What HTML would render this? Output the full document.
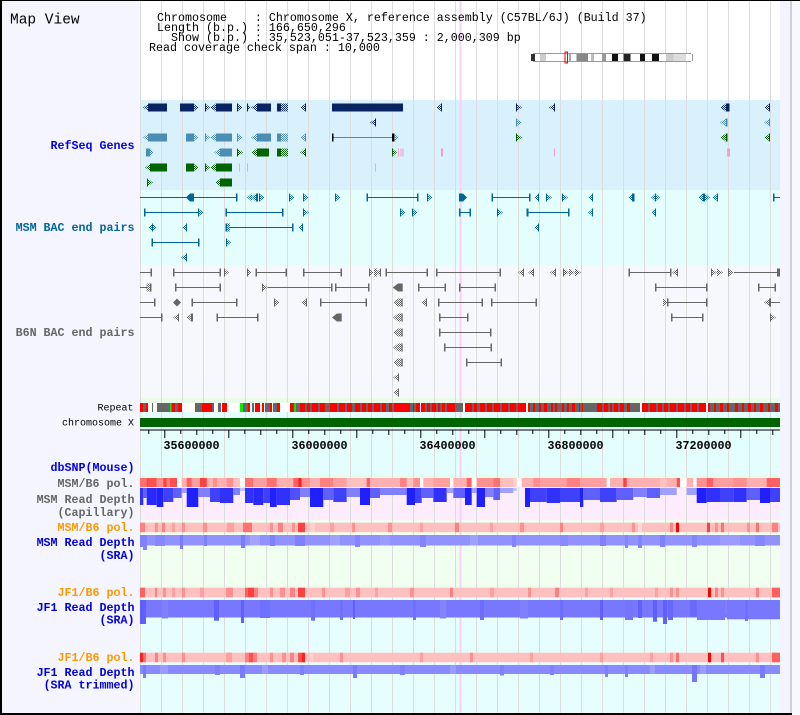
<!DOCTYPE html>
<html><head><meta charset="utf-8"><title>Map View</title>
<style>
html,body{margin:0;padding:0;background:#fff;}
svg{display:block;}
text{white-space:pre;font-family:"Liberation Mono","DejaVu Sans Mono",monospace;}
.lb{font-size:11.67px;font-weight:bold;}
.sm{font-size:10px;}
.hd{font-size:11.67px;}
</style></head><body>
<svg width="800" height="715" viewBox="0 0 800 715" xmlns="http://www.w3.org/2000/svg" xml:space="preserve">
<defs>
<pattern id="pN" width="2" height="2" patternUnits="userSpaceOnUse"><rect width="1" height="1" fill="#0a2463"/><rect x="1" y="1" width="1" height="1" fill="#0a2463"/></pattern>
<pattern id="pS" width="2" height="2" patternUnits="userSpaceOnUse"><rect width="1" height="1" fill="#4a8db5"/><rect x="1" y="1" width="1" height="1" fill="#4a8db5"/></pattern>
<pattern id="pG" width="2" height="2" patternUnits="userSpaceOnUse"><rect width="1" height="1" fill="#006400"/><rect x="1" y="1" width="1" height="1" fill="#006400"/></pattern>
<pattern id="pB" width="2" height="2" patternUnits="userSpaceOnUse"><rect width="1" height="1" fill="#006699"/><rect x="1" y="1" width="1" height="1" fill="#006699"/></pattern>
<pattern id="pY" width="2" height="2" patternUnits="userSpaceOnUse"><rect width="1" height="1" fill="#666"/><rect x="1" y="1" width="1" height="1" fill="#666"/></pattern>
</defs>

<!-- page backgrounds -->
<rect x="0" y="0" width="800" height="715" fill="#f8f8ff"/>
<rect x="0" y="0" width="140" height="715" fill="#f5f5ff"/>
<rect x="140" y="0" width="640" height="100" fill="#ffffff"/>
<rect x="140" y="100" width="640" height="90" fill="#d9f1fc"/>
<rect x="140" y="190" width="640" height="75" fill="#e4fefe"/>
<rect x="140" y="265" width="640" height="133" fill="#f6f8fe"/>
<rect x="140" y="398" width="640" height="5" fill="#e8fce8"/>
<rect x="140" y="403" width="640" height="72" fill="#e4fefe"/>
<rect x="140" y="475" width="640" height="3" fill="#eaf9ea"/>
<rect x="140" y="487" width="640" height="33" fill="#fcecfc"/>
<rect x="140" y="520" width="640" height="66" fill="#f0fff0"/>
<rect x="140" y="586" width="640" height="12" fill="#eefcee"/>
<rect x="140" y="598" width="640" height="115" fill="#e6fefe"/>
<rect x="780" y="0" width="10" height="715" fill="#f4f4fe"/>
<rect x="790" y="0" width="2" height="715" fill="#cfcfd8"/>

<!-- grid lines -->
<g fill="#dcdcdc">
<rect x="140" y="0" width="1" height="713"/>
<rect x="161" y="0" width="1" height="713"/><rect x="182" y="0" width="1" height="713"/><rect x="203" y="0" width="1" height="713"/><rect x="224" y="0" width="1" height="713"/><rect x="245" y="0" width="1" height="713"/><rect x="266" y="0" width="1" height="713"/><rect x="287" y="0" width="1" height="713"/><rect x="308" y="0" width="1" height="713"/><rect x="329" y="0" width="1" height="713"/><rect x="350" y="0" width="1" height="713"/><rect x="371" y="0" width="1" height="713"/><rect x="392" y="0" width="1" height="713"/><rect x="413" y="0" width="1" height="713"/><rect x="434" y="0" width="1" height="713"/><rect x="455" y="0" width="1" height="713"/><rect x="476" y="0" width="1" height="713"/><rect x="497" y="0" width="1" height="713"/><rect x="518" y="0" width="1" height="713"/><rect x="539" y="0" width="1" height="713"/><rect x="560" y="0" width="1" height="713"/><rect x="581" y="0" width="1" height="713"/><rect x="602" y="0" width="1" height="713"/><rect x="623" y="0" width="1" height="713"/><rect x="644" y="0" width="1" height="713"/><rect x="665" y="0" width="1" height="713"/><rect x="686" y="0" width="1" height="713"/><rect x="707" y="0" width="1" height="713"/><rect x="728" y="0" width="1" height="713"/><rect x="749" y="0" width="1" height="713"/><rect x="770" y="0" width="1" height="713"/>
</g>
<rect x="459.5" y="0" width="2" height="713" fill="#f6d2f6"/>

<!-- header -->
<text x="10" y="23.5" style="font-size:14.5px" fill="#000">Map View</text>
<text class="hd" x="157" y="21" fill="#000">Chromosome    : Chromosome X, reference assembly (C57BL/6J) (Build 37)</text>
<text class="hd" x="157" y="31" fill="#000">Length (b.p.) : 166,650,296</text>
<text class="hd" x="157" y="41" fill="#000">  Show (b.p.) : 35,523,051-37,523,359 : 2,000,309 bp</text>
<text class="hd" x="149" y="51" fill="#000">Read coverage check span : 10,000</text>

<!-- ideogram -->
<rect x="531" y="53" width="163" height="9" fill="#fff"/>
<rect x="533" y="53" width="158" height="1" fill="#999"/>
<rect x="533" y="61" width="158" height="1" fill="#999"/>
<rect x="531" y="54" width="4" height="7" fill="#333"/>
<rect x="540" y="54" width="6" height="7" fill="#ccc"/>
<rect x="569" y="54" width="2" height="7" fill="#aaa"/>
<rect x="576.5" y="54" width="11.5" height="7" fill="#888"/>
<rect x="591" y="54" width="3" height="7" fill="#bbb"/>
<rect x="602" y="54" width="4" height="7" fill="#999"/>
<rect x="612" y="54" width="6" height="7" fill="#111"/>
<rect x="623.5" y="54" width="7" height="7" fill="#222"/>
<rect x="640" y="54" width="5" height="7" fill="#111"/>
<rect x="652" y="54" width="7" height="7" fill="#111"/>
<rect x="666" y="54" width="7.5" height="7" fill="#ccc"/>
<rect x="673.5" y="54" width="12.5" height="7" fill="#ddd"/>
<rect x="692" y="54" width="1" height="7" fill="#999"/>
<rect x="565" y="52" width="2.5" height="11" fill="none" stroke="#e00" stroke-width="1"/>

<!-- left labels -->
<text class="lb" x="134.5" y="149" text-anchor="end" fill="#0000ee">RefSeq Genes</text>
<text class="lb" x="134.5" y="231" text-anchor="end" fill="#006699">MSM BAC end pairs</text>
<text class="lb" x="134.5" y="336" text-anchor="end" fill="#666666">B6N BAC end pairs</text>
<text class="sm" x="133.5" y="410.5" text-anchor="end" fill="#000">Repeat</text>
<text class="sm" x="134" y="425.5" text-anchor="end" fill="#000">chromosome X</text>
<text class="lb" x="134.5" y="471" text-anchor="end" fill="#0000ee">dbSNP(Mouse)</text>
<text class="lb" x="134.5" y="487" text-anchor="end" fill="#666666">MSM/B6 pol.</text>
<text class="lb" x="134.5" y="503" text-anchor="end" fill="#666666">MSM Read Depth</text>
<text class="lb" x="134.5" y="516" text-anchor="end" fill="#666666">(Capillary)</text>
<text class="lb" x="134.5" y="531" text-anchor="end" fill="#ff9900">MSM/B6 pol.</text>
<text class="lb" x="134.5" y="546" text-anchor="end" fill="#0000dd">MSM Read Depth</text>
<text class="lb" x="134.5" y="559" text-anchor="end" fill="#0000dd">(SRA)</text>
<text class="lb" x="134.5" y="596" text-anchor="end" fill="#ff9900">JF1/B6 pol.</text>
<text class="lb" x="134.5" y="611" text-anchor="end" fill="#0000dd">JF1 Read Depth</text>
<text class="lb" x="134.5" y="623.5" text-anchor="end" fill="#0000dd">(SRA)</text>
<text class="lb" x="134.5" y="661" text-anchor="end" fill="#ff9900">JF1/B6 pol.</text>
<text class="lb" x="134.5" y="676" text-anchor="end" fill="#0000dd">JF1 Read Depth</text>
<text class="lb" x="134.5" y="688.5" text-anchor="end" fill="#0000dd">(SRA trimmed)</text>

<!-- ===== RefSeq genes ===== -->
<g fill="url(#pN)">
<polygon points="149,103.5 143,107.5 149,111.5"/><polygon points="193,103.5 199,107.5 193,111.5"/>
<polygon points="205,103.5 210,107.5 205,111.5"/><polygon points="216,103.5 210,107.5 216,111.5"/>
<polygon points="237,103.5 243,107.5 237,111.5"/><polygon points="247,103.5 251,107.5 247,111.5"/>
<polygon points="257,103.5 251,107.5 257,111.5"/><rect x="281" y="103.5" width="7" height="8"/>
<polygon points="306,103.5 300,107.5 306,111.5"/><polygon points="442,103.5 436,107.5 442,111.5"/>
<polygon points="516,103.5 522,107.5 516,111.5"/><polygon points="555,103.5 549,107.5 555,111.5"/>
<polygon points="726,103.5 720,107.5 726,111.5"/><polygon points="770,103.5 764,107.5 770,111.5"/>
<polygon points="376,118.5 370,122.5 376,126.5"/>
</g>
<g fill="#0a2463">
<rect x="148" y="103.5" width="19" height="8"/><rect x="180" y="103.5" width="13" height="8"/><rect x="193" y="103.5" width="1" height="8"/>
<rect x="205" y="103.5" width="1" height="8"/><rect x="216" y="103.5" width="16" height="8"/><rect x="237" y="103.5" width="1" height="8"/>
<rect x="247" y="103.5" width="1" height="8"/><rect x="257" y="103.5" width="14" height="8"/><rect x="277" y="103.5" width="4" height="8"/>
<rect x="305" y="103.5" width="1" height="8"/><rect x="332" y="103.5" width="71" height="8"/><rect x="441" y="103.5" width="1" height="8"/>
<rect x="516" y="103.5" width="1" height="8"/><rect x="554" y="103.5" width="1" height="8"/><rect x="726" y="103.5" width="3.5" height="8"/>
<rect x="769" y="103.5" width="1" height="8"/><rect x="375" y="118.5" width="1" height="8"/>
</g>
<g fill="url(#pS)">
<polygon points="516,118.5 522,122.5 516,126.5"/><polygon points="726,118.5 720,122.5 726,126.5"/><polygon points="770,118.5 764,122.5 770,126.5"/>
<polygon points="149,133.5 143,137.5 149,141.5"/><polygon points="193,133.5 199,137.5 193,141.5"/>
<polygon points="205,133.5 210,137.5 205,141.5"/><polygon points="216,133.5 210,137.5 216,141.5"/>
<polygon points="237,133.5 243,137.5 237,141.5"/><polygon points="257,133.5 251,137.5 257,141.5"/>
<rect x="281" y="133.5" width="7" height="8"/><polygon points="306,133.5 300,137.5 306,141.5"/>
<polygon points="395,133.5 399,137.5 395,141.5"/>
<polygon points="150,148.5 154,152.5 150,156.5"/><polygon points="220,148.5 214,152.5 220,156.5"/>
</g>
<g fill="#4a8db5">
<rect x="516" y="118.5" width="1" height="8"/><rect x="726" y="118.5" width="1.5" height="8"/><rect x="769" y="118.5" width="1" height="8"/>
<rect x="148" y="133.5" width="19" height="8"/><rect x="186" y="133.5" width="7" height="8"/><rect x="193" y="133.5" width="1" height="8"/>
<rect x="205" y="133.5" width="1" height="8"/><rect x="216" y="133.5" width="16" height="8"/><rect x="237" y="133.5" width="1" height="8"/>
<rect x="257" y="133.5" width="14" height="8"/><rect x="277" y="133.5" width="4" height="8"/><rect x="305" y="133.5" width="1" height="8"/>
<rect x="332" y="137" width="61" height="1"/>
<rect x="146" y="148.5" width="4" height="8"/><rect x="220" y="148.5" width="12" height="8"/>
</g>
<rect x="332" y="133.5" width="1.5" height="8" fill="#000"/><rect x="392" y="133.5" width="2.5" height="8" fill="#000"/>
<g fill="url(#pG)">
<polygon points="516,133.5 522,137.5 516,141.5"/><polygon points="726,133.5 720,137.5 726,141.5"/><polygon points="770,133.5 764,137.5 770,141.5"/>
<polygon points="237,148.5 243,152.5 237,156.5"/><polygon points="257,148.5 251,152.5 257,156.5"/>
<rect x="281" y="148.5" width="7" height="8"/><polygon points="306,148.5 300,152.5 306,156.5"/>
<polygon points="392,148.5 397,152.5 392,156.5"/>
<polygon points="151,163.5 145,167.5 151,171.5"/><polygon points="193,163.5 199,167.5 193,171.5"/>
<polygon points="205,163.5 210,167.5 205,171.5"/><polygon points="216,163.5 210,167.5 216,171.5"/>
<polygon points="147,178.5 153,182.5 147,186.5"/><polygon points="221,178.5 215,182.5 221,186.5"/>
</g>
<g fill="#006400">
<rect x="516" y="133.5" width="1" height="8"/><rect x="726" y="133.5" width="1.5" height="8"/><rect x="769" y="133.5" width="1" height="8"/>
<rect x="237" y="148.5" width="1" height="8"/><rect x="257" y="148.5" width="12" height="8"/><rect x="277" y="148.5" width="4" height="8"/>
<rect x="305" y="148.5" width="1" height="8"/><rect x="392" y="148.5" width="1" height="8"/>
<rect x="150" y="163.5" width="17" height="8"/><rect x="186" y="163.5" width="7" height="8"/><rect x="193" y="163.5" width="1" height="8"/>
<rect x="205" y="163.5" width="1" height="8"/><rect x="216" y="163.5" width="16" height="8"/>
<rect x="147" y="178.5" width="1" height="8"/><rect x="220" y="178.5" width="12" height="8"/>
</g>
<g fill="#f4a0c8">
<rect x="398" y="148.5" width="1" height="8"/><rect x="400.5" y="148.5" width="1" height="8"/><rect x="402.5" y="148.5" width="1" height="8"/>
<rect x="441" y="148.5" width="2" height="8"/><rect x="554" y="148.5" width="1" height="8"/><rect x="727" y="148.5" width="3" height="8"/>
<rect x="239" y="163.5" width="1" height="8"/><rect x="247" y="163.5" width="1" height="8"/><rect x="375" y="163.5" width="1" height="8"/>
</g>

<!-- ===== MSM BAC end pairs ===== -->
<g fill="url(#pB)">
<polygon points="252,193.5 247,197.5 252,201.5"/><polygon points="256,193.5 251,197.5 256,201.5"/><polygon points="259,193.5 265,197.5 259,201.5"/>
<polygon points="289,193.5 295,197.5 289,201.5"/><polygon points="303,193.5 309,197.5 303,201.5"/><polygon points="335,193.5 341,197.5 335,201.5"/>
<polygon points="427,193.5 433,197.5 427,201.5"/>
<polygon points="539,193.5 534,197.5 539,201.5"/><polygon points="546,193.5 552,197.5 546,201.5"/><polygon points="562,193.5 568,197.5 562,201.5"/>
<polygon points="593,193.5 588,197.5 593,201.5"/><polygon points="633,193.5 628,197.5 633,201.5"/>
<polygon points="656,193.5 651,197.5 656,201.5"/><polygon points="655,193.5 660,197.5 655,201.5"/>
<polygon points="703,193.5 698,197.5 703,201.5"/><polygon points="705,193.5 710,197.5 705,201.5"/><polygon points="718,193.5 712,197.5 718,201.5"/>
<polygon points="198,208.5 204,212.5 198,216.5"/><polygon points="303,208.5 309,212.5 303,216.5"/>
<polygon points="400,208.5 406,212.5 400,216.5"/><polygon points="412,208.5 418,212.5 412,216.5"/>
<polygon points="497,208.5 503,212.5 497,216.5"/><polygon points="593,208.5 588,212.5 593,216.5"/><polygon points="656,208.5 651,212.5 656,216.5"/>
<polygon points="152.5,223.5 148,227.5 152.5,231.5"/><polygon points="152.5,223.5 157,227.5 152.5,231.5"/>
<polygon points="187,223.5 182,227.5 187,231.5"/><rect x="227" y="223.5" width="3" height="8"/>
<polygon points="303,223.5 298,227.5 303,231.5"/><polygon points="539,223.5 534,227.5 539,231.5"/>
<polygon points="226,238.5 231,242.5 226,246.5"/>
<polygon points="187,253.5 181,257.5 187,261.5"/>
</g>
<g fill="#006699">
<rect x="140" y="197" width="97" height="1"/><rect x="236" y="193.5" width="1.5" height="8"/>
<polygon points="190,193.5 186,197.5 190,201.5"/><rect x="190" y="193.5" width="4" height="8"/>
<rect x="256" y="193.5" width="2" height="8"/><rect x="259" y="193.5" width="1" height="8"/>
<rect x="289" y="193.5" width="1" height="8"/><rect x="303" y="193.5" width="1" height="8"/><rect x="335" y="193.5" width="1" height="8"/>
<rect x="367" y="197" width="51" height="1"/><rect x="366.5" y="193.5" width="1.5" height="8"/><rect x="417" y="193.5" width="1.5" height="8"/>
<rect x="427" y="193.5" width="1" height="8"/>
<rect x="459" y="193.5" width="4" height="8"/><polygon points="463,193.5 467,197.5 463,201.5"/>
<rect x="492" y="197" width="38" height="1"/><rect x="491.5" y="193.5" width="1.5" height="8"/><rect x="529" y="193.5" width="1.5" height="8"/>
<rect x="538" y="193.5" width="1" height="8"/><rect x="546" y="193.5" width="1" height="8"/><rect x="562" y="193.5" width="1" height="8"/>
<rect x="592" y="193.5" width="1" height="8"/><rect x="632" y="193.5" width="2.5" height="8"/><rect x="655" y="193.5" width="1" height="8"/>
<rect x="703" y="193.5" width="2" height="8"/><rect x="717" y="193.5" width="1" height="8"/>
<rect x="773" y="197" width="7" height="1"/><rect x="773" y="193.5" width="1.5" height="8"/>
<rect x="144" y="212" width="54" height="1"/><rect x="144" y="208.5" width="1.5" height="8"/><rect x="198" y="208.5" width="1" height="8"/>
<rect x="226" y="212" width="57" height="1"/><rect x="225.5" y="208.5" width="1.5" height="8"/><rect x="282" y="208.5" width="1.5" height="8"/>
<rect x="303" y="208.5" width="1" height="8"/><rect x="400" y="208.5" width="1" height="8"/><rect x="412" y="208.5" width="1" height="8"/>
<rect x="459" y="212" width="12" height="1"/><rect x="459" y="208.5" width="1.5" height="8"/><rect x="469.5" y="208.5" width="1.5" height="8"/>
<rect x="497" y="208.5" width="1" height="8"/>
<rect x="527" y="212" width="42" height="1"/><rect x="526.5" y="208.5" width="2" height="8"/><rect x="568" y="208.5" width="1.5" height="8"/>
<rect x="592" y="208.5" width="1" height="8"/><rect x="655" y="208.5" width="1" height="8"/>
<rect x="152" y="223.5" width="1" height="8"/><rect x="186" y="223.5" width="1" height="8"/>
<rect x="225.5" y="223.5" width="1.5" height="8"/><rect x="230" y="227" width="63" height="1"/><rect x="292" y="223.5" width="1.5" height="8"/>
<rect x="302" y="223.5" width="1" height="8"/><rect x="538" y="223.5" width="1" height="8"/>
<rect x="152" y="242" width="47" height="1"/><rect x="151.5" y="238.5" width="1.5" height="8"/><rect x="198" y="238.5" width="1.5" height="8"/>
<rect x="226" y="238.5" width="1" height="8"/><rect x="186" y="253.5" width="1" height="8"/>
</g>

<!-- ===== B6N BAC end pairs ===== -->
<g fill="url(#pY)">
<polygon points="224,268.5 229,272.5 224,276.5"/><polygon points="247,268.5 252,272.5 247,276.5"/>
<polygon points="369,268.5 374,272.5 369,276.5"/><rect x="374" y="268.5" width="3" height="8"/><polygon points="381,268.5 376,272.5 381,276.5"/>
<polygon points="524,268.5 518,272.5 524,276.5"/><polygon points="534,268.5 528,272.5 534,276.5"/><polygon points="556,268.5 550,272.5 556,276.5"/>
<polygon points="563,268.5 569,272.5 563,276.5"/><polygon points="569,268.5 575,272.5 569,276.5"/><polygon points="575,268.5 581,272.5 575,276.5"/>
<polygon points="678,268.5 672,272.5 678,276.5"/><polygon points="711,268.5 717,272.5 711,276.5"/><polygon points="717,268.5 723,272.5 717,276.5"/>
<polygon points="728,268.5 734,272.5 728,276.5"/><polygon points="780,268.5 775,272.5 780,276.5"/>
<rect x="146.5" y="283.5" width="4" height="8"/><polygon points="262,283.5 268,287.5 262,291.5"/>
<polygon points="274,298.5 280,302.5 274,306.5"/><polygon points="307,298.5 301,302.5 307,306.5"/>
<polygon points="398,298.5 393,302.5 398,306.5"/><rect x="398" y="298.5" width="4" height="8"/>
<polygon points="427,298.5 421,302.5 427,306.5"/><polygon points="663,298.5 668,302.5 663,306.5"/><polygon points="770,298.5 764,302.5 770,306.5"/>
<polygon points="179,313.5 173,317.5 179,321.5"/><polygon points="192,313.5 186,317.5 192,321.5"/>
<polygon points="398,313.5 393,317.5 398,321.5"/><rect x="398" y="313.5" width="4" height="8"/>
<polygon points="770,313.5 776,317.5 770,321.5"/>
<polygon points="398,328.5 393,332.5 398,336.5"/><rect x="398" y="328.5" width="4" height="8"/>
<polygon points="398,343.5 393,347.5 398,351.5"/><rect x="398" y="343.5" width="4" height="8"/>
<polygon points="398,358.5 393,362.5 398,366.5"/><rect x="398" y="358.5" width="4" height="8"/>
<polygon points="399,373.5 393,377.5 399,381.5"/><polygon points="399,388.5 393,392.5 399,396.5"/>
</g>
<g fill="#666666">
<rect x="140" y="272" width="11" height="1"/><rect x="150.5" y="268.5" width="1.5" height="8"/>
<rect x="173" y="272" width="47" height="1"/><rect x="173" y="268.5" width="1.5" height="8"/><rect x="219.5" y="268.5" width="1.5" height="8"/>
<rect x="224" y="268.5" width="1" height="8"/><rect x="247" y="268.5" width="1" height="8"/>
<rect x="256" y="272" width="30" height="1"/><rect x="255.5" y="268.5" width="1.5" height="8"/><rect x="285.5" y="268.5" width="1.5" height="8"/>
<rect x="303" y="272" width="38" height="1"/><rect x="303" y="268.5" width="1.5" height="8"/><rect x="340.5" y="268.5" width="1.5" height="8"/>
<rect x="369" y="268.5" width="1" height="8"/><rect x="380" y="268.5" width="1" height="8"/>
<rect x="386" y="272" width="42" height="1"/><rect x="385.5" y="268.5" width="1.5" height="8"/><rect x="426.5" y="268.5" width="1.5" height="8"/>
<rect x="436" y="272" width="64" height="1"/><rect x="436" y="268.5" width="1.5" height="8"/><rect x="499.5" y="268.5" width="1.5" height="8"/>
<rect x="523" y="268.5" width="1" height="8"/><rect x="533" y="268.5" width="1" height="8"/><rect x="555" y="268.5" width="1" height="8"/><rect x="563" y="268.5" width="1" height="8"/>
<rect x="629" y="272" width="42" height="1"/><rect x="628.5" y="268.5" width="1.5" height="8"/><rect x="670" y="268.5" width="1.5" height="8"/><rect x="677" y="268.5" width="1" height="8"/>
<rect x="711" y="268.5" width="1" height="8"/><rect x="728" y="268.5" width="1" height="8"/>
<rect x="734" y="272" width="42" height="1"/><rect x="777" y="268.5" width="3" height="8"/>
<rect x="140" y="287" width="7" height="1"/><rect x="150" y="283.5" width="1.5" height="8"/>
<rect x="175" y="287" width="46" height="1"/><rect x="175" y="283.5" width="1.5" height="8"/><rect x="219.5" y="283.5" width="1.5" height="8"/>
<rect x="262" y="283.5" width="1" height="8"/><rect x="268" y="287" width="64" height="1"/><rect x="331" y="283.5" width="1.5" height="8"/>
<rect x="335" y="287" width="34" height="1"/><rect x="335" y="283.5" width="1.5" height="8"/><rect x="368" y="283.5" width="1.5" height="8"/>
<polygon points="398,283.5 392.7,287.5 398,291.5"/><rect x="398" y="283.5" width="4.7" height="8"/>
<rect x="418" y="287" width="28" height="1"/><rect x="418" y="283.5" width="1.5" height="8"/><rect x="444.5" y="283.5" width="1.5" height="8"/>
<rect x="459" y="287" width="37" height="1"/><rect x="459" y="283.5" width="1.5" height="8"/><rect x="494.5" y="283.5" width="1.5" height="8"/>
<rect x="655" y="287" width="52" height="1"/><rect x="655" y="283.5" width="1.5" height="8"/><rect x="706" y="283.5" width="1.5" height="8"/>
<rect x="758" y="287" width="18" height="1"/><rect x="758" y="283.5" width="1.5" height="8"/><rect x="774.5" y="283.5" width="1.5" height="8"/>
<rect x="140" y="302" width="15" height="1"/><rect x="154" y="298.5" width="1.5" height="8"/>
<polygon points="177,298.5 181,302.5 177,306.5 173,302.5"/>
<rect x="192" y="302" width="45" height="1"/><rect x="191.5" y="298.5" width="1.5" height="8"/><rect x="236" y="298.5" width="1.5" height="8"/>
<rect x="274" y="298.5" width="1" height="8"/><rect x="306" y="298.5" width="1" height="8"/>
<rect x="320" y="302" width="47" height="1"/><rect x="320" y="298.5" width="1.5" height="8"/><rect x="365.5" y="298.5" width="1.5" height="8"/>
<rect x="401.5" y="298.5" width="1.2" height="8"/><rect x="426" y="298.5" width="1" height="8"/>
<rect x="438" y="302" width="45" height="1"/><rect x="438" y="298.5" width="1.5" height="8"/><rect x="481.5" y="298.5" width="1.5" height="8"/>
<rect x="491" y="302" width="46" height="1"/><rect x="491" y="298.5" width="1.5" height="8"/><rect x="535.5" y="298.5" width="1.5" height="8"/>
<rect x="667" y="298.5" width="1.5" height="8"/><rect x="668" y="302" width="39" height="1"/><rect x="706" y="298.5" width="1.5" height="8"/>
<rect x="769" y="298.5" width="2" height="8"/><rect x="771" y="302" width="9" height="1"/>
<rect x="140" y="317" width="22" height="1"/><rect x="161" y="313.5" width="1.5" height="8"/>
<rect x="178" y="313.5" width="1" height="8"/><rect x="191" y="313.5" width="2" height="8"/>
<rect x="217" y="317" width="41" height="1"/><rect x="216.5" y="313.5" width="1.5" height="8"/><rect x="257" y="313.5" width="1.5" height="8"/>
<polygon points="337,313.5 332,317.5 337,321.5"/><rect x="337" y="313.5" width="4.7" height="8"/>
<rect x="401.5" y="313.5" width="1.2" height="8"/>
<rect x="439" y="317" width="29" height="1"/><rect x="439" y="313.5" width="1.5" height="8"/><rect x="467" y="313.5" width="1.5" height="8"/>
<rect x="671" y="317" width="32" height="1"/><rect x="671" y="313.5" width="1.5" height="8"/><rect x="702" y="313.5" width="1.5" height="8"/>
<rect x="770" y="313.5" width="1" height="8"/>
<rect x="401.5" y="328.5" width="1.2" height="8"/>
<rect x="439" y="332" width="52" height="1"/><rect x="439" y="328.5" width="1.5" height="8"/><rect x="490" y="328.5" width="1.5" height="8"/>
<rect x="401.5" y="343.5" width="1.2" height="8"/>
<rect x="444" y="347" width="48" height="1"/><rect x="444" y="343.5" width="1.5" height="8"/><rect x="490.5" y="343.5" width="1.5" height="8"/>
<rect x="401.5" y="358.5" width="1.2" height="8"/>
<rect x="466" y="362" width="36" height="1"/><rect x="466" y="358.5" width="1.5" height="8"/><rect x="500.5" y="358.5" width="1.5" height="8"/>
<rect x="398" y="373.5" width="1" height="8"/><rect x="398" y="388.5" width="1" height="8"/>
</g>

<!-- ===== Repeat ===== -->
<rect x="140" y="403" width="150" height="9" fill="#fff"/>
<rect x="290" y="403" width="490" height="9" fill="#ff0000"/>
<g fill="#ff0000">
<rect x="140" y="403" width="3" height="9"/><rect x="146" y="403" width="2" height="9"/><rect x="171.5" y="403" width="3.5" height="9"/>
<rect x="178" y="403" width="4" height="9"/><rect x="202" y="403" width="10" height="9"/><rect x="222" y="403" width="5" height="9"/>
<rect x="248" y="403" width="2" height="9"/><rect x="255" y="403" width="5" height="9"/><rect x="262" y="403" width="2" height="9"/>
<rect x="270" y="403" width="2" height="9"/><rect x="277" y="403" width="3" height="9"/>
</g>
<g fill="#666666">
<rect x="143" y="403" width="3" height="9"/><rect x="152" y="403" width="1" height="9"/><rect x="157" y="403" width="13" height="9"/>
<rect x="175" y="403" width="3" height="9"/><rect x="195" y="403" width="7" height="9"/><rect x="212" y="403" width="2" height="9"/>
<rect x="218" y="403" width="3" height="9"/><rect x="243" y="403" width="5" height="9"/><rect x="252" y="403" width="2" height="9"/>
<rect x="265" y="403" width="5" height="9"/><rect x="273" y="403" width="4" height="9"/>
<rect x="296" y="403" width="4" height="9"/><rect x="305" y="403" width="2" height="9"/><rect x="310" y="403" width="2" height="9"/>
<rect x="318" y="403" width="2" height="9"/><rect x="325" y="403" width="5" height="9"/><rect x="337" y="403" width="2" height="9"/>
<rect x="345" y="403" width="2" height="9"/><rect x="352" y="403" width="3" height="9"/><rect x="360" y="403" width="2" height="9"/>
<rect x="366" y="403" width="2" height="9"/><rect x="372" y="403" width="2" height="9"/><rect x="380" y="403" width="2" height="9"/>
<rect x="386" y="403" width="3" height="9"/><rect x="392" y="403" width="2" height="9"/>
<rect x="410" y="403" width="3" height="9"/><rect x="414" y="403" width="2" height="9"/><rect x="425" y="403" width="2" height="9"/>
<rect x="430" y="403" width="2" height="9"/><rect x="436" y="403" width="2" height="9"/><rect x="440" y="403" width="2" height="9"/>
<rect x="445" y="403" width="2" height="9"/><rect x="455" y="403" width="8" height="9"/><rect x="472" y="403" width="2" height="9"/>
<rect x="477" y="403" width="3" height="9"/><rect x="485" y="403" width="2" height="9"/><rect x="492" y="403" width="2" height="9"/>
<rect x="500" y="403" width="2" height="9"/><rect x="508" y="403" width="2" height="9"/><rect x="516" y="403" width="2" height="9"/>
<rect x="530" y="403" width="3" height="9"/><rect x="535" y="403" width="4" height="9"/><rect x="541" y="403" width="3" height="9"/>
<rect x="547" y="403" width="4" height="9"/><rect x="553" y="403" width="2" height="9"/><rect x="557" y="403" width="5" height="9"/>
<rect x="564" y="403" width="3" height="9"/><rect x="569" y="403" width="3" height="9"/><rect x="575" y="403" width="4" height="9"/>
<rect x="580" y="403" width="2" height="9"/><rect x="583" y="403" width="14" height="9"/><rect x="602" y="403" width="2" height="9"/>
<rect x="608" y="403" width="2" height="9"/><rect x="612" y="403" width="2" height="9"/><rect x="618" y="403" width="2" height="9"/>
<rect x="624" y="403" width="3" height="9"/><rect x="630" y="403" width="10" height="9"/><rect x="648" y="403" width="2" height="9"/>
<rect x="656" y="403" width="2" height="9"/><rect x="662" y="403" width="2" height="9"/><rect x="668" y="403" width="2" height="9"/>
<rect x="676" y="403" width="2" height="9"/><rect x="684" y="403" width="2" height="9"/><rect x="690" y="403" width="2" height="9"/>
<rect x="697" y="403" width="2" height="9"/><rect x="710" y="403" width="70" height="9"/>
</g>
<g fill="#ff0000">
<rect x="714" y="403" width="2" height="9"/><rect x="720" y="403" width="3" height="9"/><rect x="727" y="403" width="2" height="9"/>
<rect x="735" y="403" width="3" height="9"/><rect x="742" y="403" width="2" height="9"/><rect x="748" y="403" width="3" height="9"/>
<rect x="754" y="403" width="2" height="9"/><rect x="760" y="403" width="3" height="9"/><rect x="768" y="403" width="2" height="9"/><rect x="775" y="403" width="3" height="9"/>
</g>
<g fill="#ffffff">
<rect x="420" y="403" width="1" height="9"/><rect x="463" y="403" width="2" height="9"/><rect x="526" y="403" width="2" height="9"/>
<rect x="640" y="403" width="2" height="9"/><rect x="706" y="403" width="2" height="9"/>
</g>
<g fill="#00ee00">
<rect x="170" y="403" width="1.5" height="9"/><rect x="240" y="403" width="3" height="9"/><rect x="294" y="403" width="2" height="9"/>
</g>

<!-- chromosome bar -->
<rect x="140" y="418" width="640" height="9" fill="#006400"/>

<!-- axis -->
<rect x="140" y="429.5" width="640" height="1" fill="#000"/>
<g fill="#000">
<rect x="148.3" y="430" width="1" height="4"/><rect x="164.3" y="430" width="1" height="8"/><rect x="180.3" y="430" width="1" height="4"/><rect x="196.3" y="430" width="1" height="5"/>
<rect x="212.3" y="430" width="1" height="4"/><rect x="228.3" y="430" width="1" height="8"/><rect x="244.3" y="430" width="1" height="4"/><rect x="260.3" y="430" width="1" height="5"/>
<rect x="276.3" y="430" width="1" height="4"/><rect x="292.3" y="430" width="1" height="8"/><rect x="308.3" y="430" width="1" height="4"/><rect x="324.3" y="430" width="1" height="5"/>
<rect x="340.3" y="430" width="1" height="4"/><rect x="356.3" y="430" width="1" height="8"/><rect x="372.3" y="430" width="1" height="4"/><rect x="388.3" y="430" width="1" height="5"/>
<rect x="404.3" y="430" width="1" height="4"/><rect x="420.3" y="430" width="1" height="8"/><rect x="436.3" y="430" width="1" height="4"/><rect x="452.3" y="430" width="1" height="5"/>
<rect x="468.3" y="430" width="1" height="4"/><rect x="484.3" y="430" width="1" height="8"/><rect x="500.3" y="430" width="1" height="4"/><rect x="516.3" y="430" width="1" height="5"/>
<rect x="532.3" y="430" width="1" height="4"/><rect x="548.3" y="430" width="1" height="8"/><rect x="564.3" y="430" width="1" height="4"/><rect x="580.3" y="430" width="1" height="5"/>
<rect x="596.3" y="430" width="1" height="4"/><rect x="612.3" y="430" width="1" height="8"/><rect x="628.3" y="430" width="1" height="4"/><rect x="644.3" y="430" width="1" height="5"/>
<rect x="660.3" y="430" width="1" height="4"/><rect x="676.3" y="430" width="1" height="8"/><rect x="692.3" y="430" width="1" height="4"/><rect x="708.3" y="430" width="1" height="5"/>
<rect x="724.3" y="430" width="1" height="4"/><rect x="740.3" y="430" width="1" height="8"/><rect x="756.3" y="430" width="1" height="4"/><rect x="772.3" y="430" width="1" height="5"/>
</g>
<text class="lb" x="163.5" y="449" fill="#000">35600000</text>
<text class="lb" x="291.5" y="449" fill="#000">36000000</text>
<text class="lb" x="419.5" y="449" fill="#000">36400000</text>
<text class="lb" x="547.5" y="449" fill="#000">36800000</text>
<text class="lb" x="675.5" y="449" fill="#000">37200000</text>

<!-- ===== MSM/B6 pol (gray) ===== -->
<rect x="140" y="478" width="640" height="9" fill="#ffb0b0"/>
<g transform="translate(0,478)">
<rect x="140" width="6.7" height="9" fill="#ff7070"/><rect x="146.7" width="1.7" height="9" fill="#ff4040"/><rect x="148.3" width="8.4" height="9" fill="#ff5050"/>
<rect x="156.7" width="6.6" height="9" fill="#ff9090"/><rect x="163.3" width="3.4" height="9" fill="#ff4040"/><rect x="166.7" width="3.3" height="9" fill="#ff8080"/>
<rect x="170" width="7" height="9" fill="#ff5050"/><rect x="177" width="4.7" height="9" fill="#fff"/><rect x="186.7" width="5" height="9" fill="#ff6060"/>
<rect x="191.7" width="8.3" height="9" fill="#ffa0a0"/><rect x="200" width="6.7" height="9" fill="#ff4040"/><rect x="213" width="4" height="9" fill="#ff9090"/>
<rect x="226.7" width="6.6" height="9" fill="#ff9090"/><rect x="233.3" width="6.7" height="9" fill="#ffc0c0"/><rect x="240" width="5" height="9" fill="#fff"/>
<rect x="245" width="8.3" height="9" fill="#ff7070"/><rect x="253.3" width="13.4" height="9" fill="#ffa0a0"/><rect x="266.7" width="10" height="9" fill="#ff7070"/>
<rect x="293.3" width="5" height="9" fill="#ff6060"/><rect x="298.3" width="3.4" height="9" fill="#ff2020"/><rect x="301.7" width="8.3" height="9" fill="#ff9090"/>
<rect x="320" width="13.3" height="9" fill="#ff8080"/><rect x="333.3" width="13.4" height="9" fill="#ffa0a0"/><rect x="346.7" width="20" height="9" fill="#ffc0c0"/>
<rect x="366.7" width="3.3" height="9" fill="#ff6060"/><rect x="400" width="6.7" height="9" fill="#ff8080"/><rect x="406.7" width="6.6" height="9" fill="#ffc0c0"/>
<rect x="413.3" width="6.7" height="9" fill="#ff9090"/><rect x="420" width="3.3" height="9" fill="#fff"/><rect x="433.3" width="16.7" height="9" fill="#ffa0a0"/>
<rect x="450" width="3.3" height="9" fill="#fff"/><rect x="466.7" width="5" height="9" fill="#ff6060"/><rect x="471.7" width="5" height="9" fill="#fff"/>
<rect x="476.7" width="16.6" height="9" fill="#ff9090"/><rect x="493.3" width="6.7" height="9" fill="#ff7070"/><rect x="500" width="13.3" height="9" fill="#ffc0c0"/>
<rect x="513.3" width="3.4" height="9" fill="#ffd0d0"/><rect x="516.7" width="5" height="9" fill="#fff"/><rect x="533.3" width="6.7" height="9" fill="#ff9090"/>
<rect x="540" width="26.7" height="9" fill="#ffa0a0"/><rect x="566.7" width="13.3" height="9" fill="#ff8080"/><rect x="580" width="26.7" height="9" fill="#ffa0a0"/>
<rect x="606.7" width="3.3" height="9" fill="#fff"/><rect x="623.3" width="3.4" height="9" fill="#ff4040"/><rect x="660" width="6.7" height="9" fill="#ffc0c0"/>
<rect x="676.7" width="3.3" height="9" fill="#ff5050"/><rect x="680" width="6.7" height="9" fill="#fff"/><rect x="693.3" width="3.4" height="9" fill="#fff"/>
<rect x="696.7" width="10" height="9" fill="#ff9090"/><rect x="706.7" width="6.6" height="9" fill="#ff6060"/><rect x="713.3" width="20" height="9" fill="#ffa0a0"/>
<rect x="733.3" width="13.4" height="9" fill="#ff9090"/><rect x="766.7" width="13.3" height="9" fill="#ff6060"/>
</g>

<!-- ===== MSM Read Depth (Capillary) ===== -->
<g transform="translate(0,488)">
<rect x="140" width="3.3" height="17" fill="#3030ff"/><rect x="143.3" width="3.4" height="10" fill="#6060ff"/><rect x="146.7" width="10" height="17" fill="#2828ff"/>
<rect x="156.7" width="6.6" height="19" fill="#2020ff"/><rect x="163.3" width="10" height="14" fill="#4040ff"/><rect x="173.3" width="8.4" height="10" fill="#6060ff"/>
<rect x="181.7" width="5" height="5" fill="#a0a0ff"/><rect x="186.7" width="11.6" height="19" fill="#2020ff"/><rect x="198.3" width="11.7" height="9" fill="#8080ff"/>
<rect x="210" width="10" height="14" fill="#4040ff"/><rect x="220" width="13.3" height="15" fill="#3030ff"/><rect x="233.3" width="6.7" height="7" fill="#8080ff"/>
<rect x="240" width="5" height="3" fill="#c0c0ff"/><rect x="245" width="8.3" height="15" fill="#3030ff"/><rect x="253.3" width="10" height="17" fill="#2828ff"/>
<rect x="263.3" width="6.7" height="15" fill="#4040ff"/><rect x="270" width="6.7" height="19" fill="#2020ff"/><rect x="276.7" width="13.3" height="17" fill="#3030ff"/>
<rect x="290" width="10" height="12" fill="#5050ff"/><rect x="300" width="10" height="9" fill="#8080ff"/><rect x="310" width="13.3" height="19" fill="#2020ff"/>
<rect x="323.3" width="10" height="12" fill="#6060ff"/><rect x="333.3" width="13.4" height="14" fill="#4040ff"/><rect x="346.7" width="13.3" height="9" fill="#8080ff"/>
<rect x="360" width="10" height="17" fill="#2020ff"/><rect x="370" width="10" height="10" fill="#6060ff"/><rect x="380" width="20" height="7" fill="#8080ff"/>
<rect x="400" width="6.7" height="7" fill="#8080ff"/><rect x="406.7" width="8.3" height="17" fill="#2020ff"/><rect x="415" width="6.7" height="15" fill="#4040ff"/>
<rect x="421.7" width="11.6" height="10" fill="#6060ff"/><rect x="433.3" width="13.4" height="14" fill="#3030ff"/><rect x="446.7" width="6.6" height="5" fill="#a0a0ff"/>
<rect x="453.3" width="11.7" height="10" fill="#6060ff"/><rect x="465" width="6.7" height="17" fill="#2020ff"/><rect x="471.7" width="5" height="5" fill="#a0a0ff"/>
<rect x="476.7" width="8.3" height="19" fill="#2020ff"/><rect x="485" width="8.3" height="9" fill="#8080ff"/><rect x="493.3" width="6.7" height="12" fill="#6060ff"/>
<rect x="500" width="13.3" height="5" fill="#a0a0ff"/><rect x="513.3" width="3.4" height="3" fill="#c0c0ff"/><rect x="525" width="5" height="19" fill="#2020ff"/>
<rect x="530" width="16.7" height="14" fill="#4040ff"/><rect x="546.7" width="13.3" height="15" fill="#3030ff"/><rect x="560" width="20" height="14" fill="#4040ff"/>
<rect x="580" width="3.3" height="19" fill="#2020ff"/><rect x="583.3" width="16.7" height="12" fill="#6060ff"/><rect x="600" width="16.7" height="14" fill="#4040ff"/>
<rect x="616.7" width="16.6" height="12" fill="#6060ff"/><rect x="633.3" width="13.4" height="9" fill="#8080ff"/><rect x="646.7" width="13.3" height="10" fill="#6060ff"/>
<rect x="660" width="16.7" height="7" fill="#a0a0ff"/><rect x="686.7" width="10" height="7" fill="#a0a0ff"/><rect x="696.7" width="10" height="15" fill="#2020ff"/>
<rect x="706.7" width="13.3" height="14" fill="#3030ff"/><rect x="720" width="13.3" height="14" fill="#4040ff"/><rect x="733.3" width="13.4" height="14" fill="#3030ff"/>
<rect x="746.7" width="13.3" height="12" fill="#6060ff"/><rect x="760" width="10" height="15" fill="#2020ff"/><rect x="770" width="10" height="14" fill="#4040ff"/>
</g>

<!-- ===== MSM/B6 pol (orange) ===== -->
<rect x="140" y="522.7" width="640" height="9.5" fill="#ffc0c0"/>
<g transform="translate(0,522.7)">
<rect x="140" width="5" height="9.5" fill="#ff8080"/><rect x="155" width="3" height="9.5" fill="#ff9090"/><rect x="162" width="3" height="9.5" fill="#ff8080"/>
<rect x="172" width="3" height="9.5" fill="#ffa0a0"/><rect x="182" width="3" height="9.5" fill="#ff9090"/><rect x="203" width="4" height="9.5" fill="#ff9090"/>
<rect x="227" width="7" height="9.5" fill="#ffa0a0"/><rect x="243" width="9" height="9.5" fill="#ff7070"/><rect x="270" width="3" height="9.5" fill="#ff9090"/>
<rect x="278" width="5" height="9.5" fill="#ff8080"/><rect x="292" width="3" height="9.5" fill="#ff9090"/><rect x="298" width="7" height="9.5" fill="#ff4040"/>
<rect x="310" width="5" height="9.5" fill="#ffd0d0"/><rect x="330" width="4" height="9.5" fill="#ffa0a0"/><rect x="352" width="3" height="9.5" fill="#ff9090"/>
<rect x="388" width="4" height="9.5" fill="#ff9090"/><rect x="420" width="3" height="9.5" fill="#ffa0a0"/><rect x="455" width="4" height="9.5" fill="#ff8080"/>
<rect x="490" width="3" height="9.5" fill="#ffa0a0"/><rect x="520" width="4" height="9.5" fill="#ff9090"/><rect x="560" width="3" height="9.5" fill="#ff8080"/>
<rect x="600" width="4" height="9.5" fill="#ffa0a0"/><rect x="632" width="3" height="9.5" fill="#ff9090"/><rect x="638" width="4" height="9.5" fill="#ffd8d8"/>
<rect x="670" width="3" height="9.5" fill="#ff8080"/><rect x="676" width="3" height="9.5" fill="#ff0000"/><rect x="707" width="3" height="9.5" fill="#ff4040"/>
<rect x="715" width="3" height="9.5" fill="#ff9090"/><rect x="721" width="3" height="9.5" fill="#ff7070"/><rect x="747" width="3" height="9.5" fill="#ff9090"/>
<rect x="756" width="3" height="9.5" fill="#ff7070"/><rect x="772" width="6" height="9.5" fill="#ff8080"/>
</g>

<!-- ===== MSM Read Depth (SRA) ===== -->
<rect x="140" y="535" width="640" height="10.5" fill="#9292ff"/>
<g transform="translate(0,535)">
<rect x="140" width="6" height="12" fill="#8282ff"/><rect x="143" width="4" height="15" fill="#8282ff"/><rect x="155" width="10" height="11" fill="#8888ff"/>
<rect x="180" width="3" height="14" fill="#7a7aff"/><rect x="204" width="3" height="11" fill="#8080ff"/><rect x="241" width="4" height="13" fill="#7a7aff"/>
<rect x="250" width="10" height="10.5" fill="#a4a4ff"/><rect x="270" width="5" height="11" fill="#8080ff"/><rect x="295" width="10" height="11" fill="#8080ff"/>
<rect x="330" width="10" height="10.5" fill="#a0a0ff"/><rect x="355" width="5" height="12" fill="#8484ff"/><rect x="380" width="10" height="10.5" fill="#9c9cff"/>
<rect x="420" width="6" height="12" fill="#8484ff"/><rect x="470" width="8" height="10.5" fill="#a0a0ff"/><rect x="512" width="4" height="12" fill="#8484ff"/>
<rect x="560" width="8" height="11" fill="#8a8aff"/><rect x="600" width="6" height="11" fill="#8080ff"/><rect x="625" width="3" height="13" fill="#8484ff"/>
<rect x="638" width="4" height="13" fill="#8484ff"/><rect x="660" width="5" height="12" fill="#8080ff"/><rect x="692" width="5" height="12" fill="#8484ff"/>
<rect x="720" width="20" height="10.5" fill="#9c9cff"/><rect x="755" width="10" height="11" fill="#8686ff"/>
</g>

<!-- ===== JF1/B6 pol ===== -->
<rect x="140" y="587.7" width="640" height="9.6" fill="#ffc0c0"/>
<g transform="translate(0,587.7)">
<rect x="140" width="5" height="9.6" fill="#ff6060"/><rect x="155" width="2" height="9.6" fill="#ff8080"/><rect x="163" width="3" height="9.6" fill="#ff9090"/>
<rect x="172" width="3" height="9.6" fill="#ffa0a0"/><rect x="182" width="3" height="9.6" fill="#ff9090"/><rect x="200" width="4" height="9.6" fill="#ffa0a0"/>
<rect x="226" width="7" height="9.6" fill="#ff9090"/><rect x="245" width="3" height="9.6" fill="#ff6060"/><rect x="248" width="6" height="9.6" fill="#ff4040"/>
<rect x="254" width="4" height="9.6" fill="#ff8080"/><rect x="270" width="3" height="9.6" fill="#ff9090"/><rect x="280" width="5" height="9.6" fill="#ff9090"/>
<rect x="290" width="5" height="9.6" fill="#ff8080"/><rect x="298" width="7" height="9.6" fill="#ff4040"/><rect x="322" width="3" height="9.6" fill="#ff9090"/>
<rect x="345" width="5" height="9.6" fill="#ffa0a0"/><rect x="356" width="4" height="9.6" fill="#ff9090"/><rect x="375" width="3" height="9.6" fill="#ffa0a0"/>
<rect x="410" width="4" height="9.6" fill="#ff9090"/><rect x="450" width="3" height="9.6" fill="#ff8080"/><rect x="490" width="4" height="9.6" fill="#ffa0a0"/>
<rect x="528" width="3" height="9.6" fill="#ff9090"/><rect x="555" width="4" height="9.6" fill="#ff8080"/><rect x="585" width="3" height="9.6" fill="#ffa0a0"/>
<rect x="610" width="3" height="9.6" fill="#ffa0a0"/><rect x="655" width="3" height="9.6" fill="#ffa0a0"/><rect x="670" width="3" height="9.6" fill="#ff9090"/>
<rect x="676" width="3" height="9.6" fill="#ff9090"/><rect x="708" width="3" height="9.6" fill="#ff0000"/><rect x="715" width="3" height="9.6" fill="#ff8080"/>
<rect x="721" width="3" height="9.6" fill="#ff9090"/><rect x="756" width="3" height="9.6" fill="#ff8080"/><rect x="772" width="8" height="9.6" fill="#ff6060"/>
</g>

<!-- ===== JF1 Read Depth (SRA) ===== -->
<rect x="140" y="600" width="640" height="17.5" fill="#7878ff"/>
<g transform="translate(0,600)">
<rect x="140" width="6" height="24" fill="#6060ff"/><rect x="162" width="6" height="18.5" fill="#8080ff"/><rect x="214" width="5" height="20.7" fill="#6060ff"/>
<rect x="241" width="3" height="23" fill="#6060ff"/><rect x="260" width="10" height="18" fill="#7070ff"/><rect x="311" width="4" height="20.7" fill="#7070ff"/>
<rect x="340" width="3" height="20" fill="#7070ff"/><rect x="353" width="2" height="19" fill="#6060ff"/><rect x="413" width="3" height="20" fill="#7070ff"/>
<rect x="440" width="6" height="18.5" fill="#8484ff"/><rect x="480" width="4" height="20" fill="#6c6cff"/><rect x="520" width="8" height="18.5" fill="#8080ff"/>
<rect x="560" width="3" height="20" fill="#6c6cff"/><rect x="600" width="3" height="20" fill="#6060ff"/><rect x="625" width="8" height="20" fill="#7474ff"/>
<rect x="638" width="4" height="18" fill="#6060ff"/><rect x="653" width="4" height="21.7" fill="#6060ff"/><rect x="663" width="4" height="24" fill="#6060ff"/>
<rect x="668" width="5" height="20" fill="#6868ff"/><rect x="690" width="7" height="16.7" fill="#6a6aff"/><rect x="697" width="28" height="20" fill="#7878ff"/>
<rect x="725" width="2" height="14" fill="#8080ff"/><rect x="727" width="53" height="19.3" fill="#7878ff"/><rect x="745" width="3" height="21" fill="#7070ff"/>
</g>

<!-- ===== JF1/B6 pol 2 ===== -->
<rect x="140" y="652.7" width="640" height="9.6" fill="#ffc0c0"/>
<g transform="translate(0,652.7)">
<rect x="140" width="3" height="9.6" fill="#ff2020"/><rect x="143" width="3" height="9.6" fill="#ff7070"/><rect x="155" width="3" height="9.6" fill="#ff8080"/>
<rect x="163" width="3" height="9.6" fill="#ff9090"/><rect x="182" width="3" height="9.6" fill="#ff9090"/><rect x="226" width="6" height="9.6" fill="#ffa0a0"/>
<rect x="245" width="4" height="9.6" fill="#ff8080"/><rect x="249" width="4" height="9.6" fill="#ff5050"/><rect x="253" width="4" height="9.6" fill="#ff8080"/>
<rect x="270" width="3" height="9.6" fill="#ff9090"/><rect x="282" width="4" height="9.6" fill="#ff9090"/><rect x="290" width="4" height="9.6" fill="#ff8080"/>
<rect x="298" width="4" height="9.6" fill="#ff5050"/><rect x="302" width="3" height="9.6" fill="#ff2020"/><rect x="310" width="3" height="9.6" fill="#ffd0d0"/>
<rect x="340" width="3" height="9.6" fill="#ff9090"/><rect x="420" width="3" height="9.6" fill="#ffa0a0"/><rect x="470" width="3" height="9.6" fill="#ff9090"/>
<rect x="530" width="3" height="9.6" fill="#ffa0a0"/><rect x="600" width="3" height="9.6" fill="#ffa0a0"/><rect x="650" width="3" height="9.6" fill="#ffa0a0"/>
<rect x="670" width="3" height="9.6" fill="#ff9090"/><rect x="676" width="3" height="9.6" fill="#ff7070"/><rect x="708" width="3" height="9.6" fill="#ff0000"/>
<rect x="721" width="3" height="9.6" fill="#ff5050"/><rect x="756" width="3" height="9.6" fill="#ff9090"/><rect x="772" width="8" height="9.6" fill="#ff6060"/>
</g>

<!-- ===== JF1 Read Depth (SRA trimmed) ===== -->
<rect x="140" y="665" width="640" height="9" fill="#8a8aff"/>
<g transform="translate(0,665)">
<rect x="143" width="3" height="13" fill="#7a7aff"/><rect x="160" width="8" height="9" fill="#9a9aff"/><rect x="215" width="5" height="10" fill="#8080ff"/>
<rect x="240" width="5" height="13" fill="#7a7aff"/><rect x="262" width="6" height="9" fill="#9c9cff"/><rect x="300" width="4" height="10" fill="#8080ff"/>
<rect x="353" width="4" height="13" fill="#7a7aff"/><rect x="400" width="5" height="10" fill="#8080ff"/><rect x="450" width="6" height="9" fill="#9c9cff"/>
<rect x="500" width="4" height="10.5" fill="#8080ff"/><rect x="550" width="4" height="10" fill="#8080ff"/><rect x="605" width="3" height="12" fill="#8080ff"/>
<rect x="625" width="3" height="12" fill="#8080ff"/><rect x="650" width="5" height="9" fill="#9c9cff"/><rect x="692" width="5" height="17" fill="#7474ff"/>
<rect x="700" width="6" height="9" fill="#9c9cff"/><rect x="760" width="5" height="13" fill="#7a7aff"/>
</g>

<!-- borders -->
<rect x="0" y="0" width="800" height="1" fill="#000"/>
<rect x="0" y="0" width="2" height="715" fill="#000"/>
<rect x="0" y="713" width="792" height="2" fill="#000"/>
</svg>
</body></html>
